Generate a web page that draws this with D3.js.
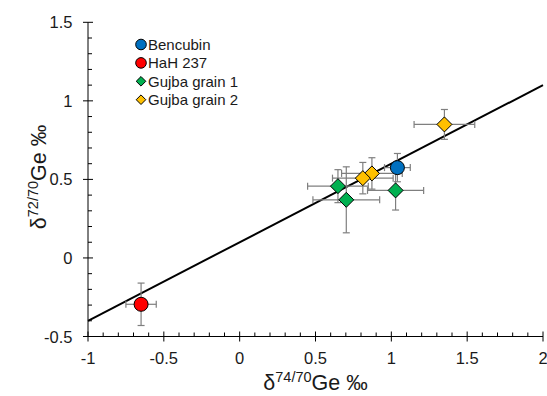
<!DOCTYPE html>
<html><head><meta charset="utf-8">
<script src="https://cdn.jsdelivr.net/npm/d3@7"></script>
<style>body{margin:0;background:#fff}svg{display:block;font-family:Arial,"Liberation Sans",sans-serif}</style>
</head><body><svg id="c" width="547" height="396"></svg>
<script>
const seriesNames = ["Bencubin","HaH 237","Gujba grain 1","Gujba grain 2"];
const seriesColors = ["#0070C0","#FF0000","#00B050","#FFC000"];
const seriesShapes = ["circle","circle","diamond","diamond"];
// per-series points: x, y, x error, y error
const bencubin = [{x:1.04,y:0.575,ex:0.085,ey:0.09}];
const hah237 = [{x:-0.65,y:-0.295,ex:0.10,ey:0.135}];
const gujba1 = [
  {x:0.648,y:0.457,ex:0.2,ey:0.105},
  {x:0.703,y:0.37,ex:0.22,ey:0.21},
  {x:1.028,y:0.43,ex:0.185,ey:0.125}
];
const gujba2 = [
  {x:1.35,y:0.85,ex:0.2,ey:0.095},
  {x:0.872,y:0.538,ex:0.2,ey:0.1},
  {x:0.812,y:0.508,ex:0.2,ey:0.1}
];
const seriesData = [bencubin,hah237,gujba1,gujba2];
const xTicks = [-1,-0.5,0,0.5,1,1.5,2];
const yTicks = [-0.5,0,0.5,1,1.5];
const fitLine = [{x:-1,y:-0.4},{x:2,y:1.1}];

const svg = d3.select("#c");
const x = d3.scaleLinear().domain([-1,2]).range([88,543]);
const y = d3.scaleLinear().domain([-0.5,1.5]).range([336.5,22.3]);
const txt = "#1a1a1a";

// axes
const gx = svg.append("g");
gx.append("line").attr("x1",x(-1)).attr("x2",x(2)).attr("y1",y(-0.5)).attr("y2",y(-0.5)).attr("stroke","#000").attr("stroke-width",1);
d3.range(-1,2.0001,0.1).forEach(v=>{
  const major = xTicks.some(t=>Math.abs(t-v)<1e-6);
  gx.append("line").attr("x1",x(v)).attr("x2",x(v))
    .attr("y1",y(-0.5)+(major?5:0)).attr("y2",y(-0.5)-(major?5:4))
    .attr("stroke","#000").attr("stroke-width",1);
});
xTicks.forEach(t=>{
  gx.append("text").attr("x",x(t)).attr("y",363.5).attr("text-anchor","middle")
    .attr("font-size",16.5).attr("fill",txt).text(t);
});
const gy = svg.append("g");
gy.append("line").attr("x1",x(-1)).attr("x2",x(-1)).attr("y1",y(-0.5)).attr("y2",y(1.5)).attr("stroke","#000").attr("stroke-width",1);
d3.range(-0.5,1.5001,0.1).forEach(v=>{
  const major = yTicks.some(t=>Math.abs(t-v)<1e-6);
  gy.append("line").attr("y1",y(v)).attr("y2",y(v))
    .attr("x1",x(-1)-(major?5:0)).attr("x2",x(-1)+(major?5:4))
    .attr("stroke","#000").attr("stroke-width",1);
});
yTicks.forEach(t=>{
  gy.append("text").attr("x",72.5).attr("y",y(t)+6).attr("text-anchor","end")
    .attr("font-size",16.5).attr("fill",txt).text(t);
});

// axis titles
const xt = svg.append("text").attr("x",315.5).attr("y",389.5).attr("text-anchor","middle").attr("font-size",21.5).attr("fill",txt);
xt.append("tspan").text("δ");
xt.append("tspan").attr("font-size",14.5).attr("dy",-8).text("74/70");
xt.append("tspan").attr("dy",8).text("Ge ‰");
const yt = svg.append("text").attr("transform","translate(46,177) rotate(-90)").attr("text-anchor","middle").attr("font-size",21.5).attr("fill",txt);
yt.append("tspan").text("δ");
yt.append("tspan").attr("font-size",14.5).attr("dy",-8).text("72/70");
yt.append("tspan").attr("dy",8).text("Ge ‰");

// fit line
svg.append("line").attr("x1",x(fitLine[0].x)).attr("y1",y(fitLine[0].y))
  .attr("x2",x(fitLine[1].x)).attr("y2",y(fitLine[1].y)).attr("stroke","#000").attr("stroke-width",2);

// error bars
const eb = svg.append("g").attr("stroke","#7F7F7F").attr("stroke-width",1.2);
const cap = 3.5;
seriesData.forEach(arr=>arr.forEach(d=>{
  eb.append("line").attr("x1",x(d.x-d.ex)).attr("x2",x(d.x+d.ex)).attr("y1",y(d.y)).attr("y2",y(d.y));
  eb.append("line").attr("y1",y(d.y-d.ey)).attr("y2",y(d.y+d.ey)).attr("x1",x(d.x)).attr("x2",x(d.x));
  [d.x-d.ex,d.x+d.ex].forEach(v=>eb.append("line").attr("x1",x(v)).attr("x2",x(v)).attr("y1",y(d.y)-cap).attr("y2",y(d.y)+cap));
  [d.y-d.ey,d.y+d.ey].forEach(v=>eb.append("line").attr("y1",y(v)).attr("y2",y(v)).attr("x1",x(d.x)-cap).attr("x2",x(d.x)+cap));
}));

function marker(g,shape,cx,cy,r,color){
  if(shape==="circle"){
    g.append("circle").attr("cx",cx).attr("cy",cy).attr("r",r).attr("fill",color).attr("stroke","#000").attr("stroke-width",1);
  } else {
    g.append("path").attr("d",`M${cx},${cy-r}L${cx+r},${cy}L${cx},${cy+r}L${cx-r},${cy}Z`)
      .attr("fill",color).attr("stroke","#000").attr("stroke-width",1);
  }
}
const mg = svg.append("g");
// draw order: green, yellow, blue, red
[2,3,0,1].forEach(i=>{
  seriesData[i].forEach(d=>marker(mg,seriesShapes[i],x(d.x),y(d.y),seriesShapes[i]==="circle"?7:7.5,seriesColors[i]));
});

// legend
const lg = svg.append("g");
seriesNames.forEach((n,i)=>{
  const yy = 44.5 + i*18.4;
  marker(lg,seriesShapes[i],141,yy,seriesShapes[i]==="circle"?5.3:4.8,seriesColors[i]);
  lg.append("text").attr("x",148).attr("y",yy+5.3).attr("font-size",15).attr("fill",txt).text(n);
});
</script></body></html>
